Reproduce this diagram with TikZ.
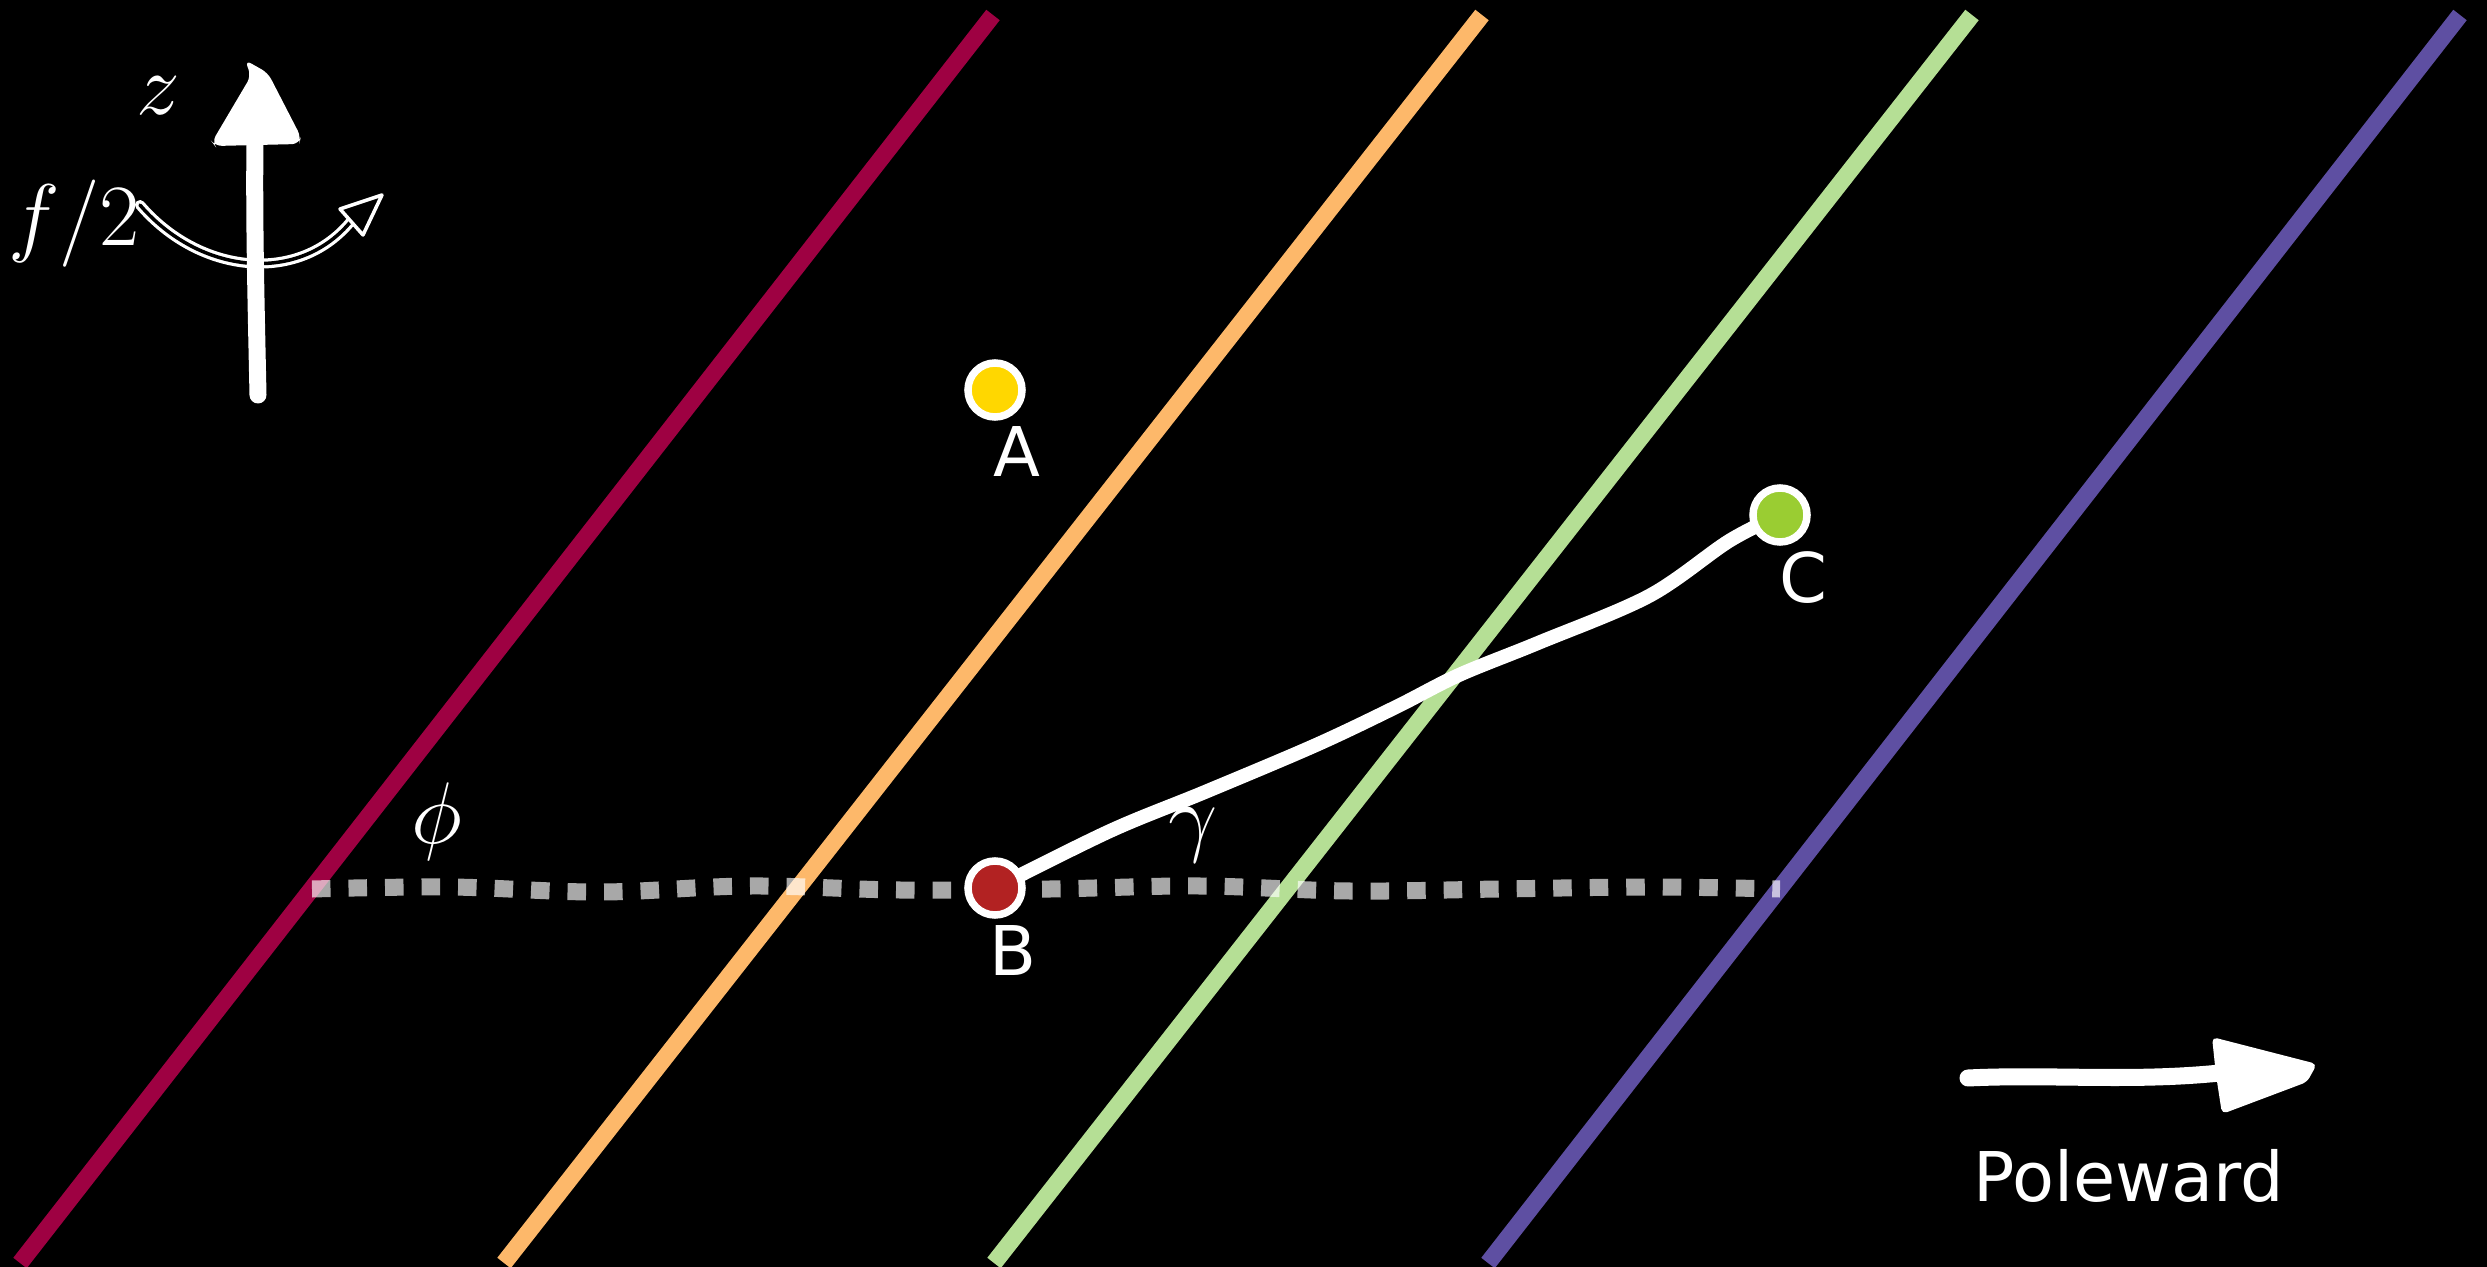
\documentclass[tikz,border=0pt]{standalone}
\usepackage{fontspec}
\newfontfamily\labfont{DejaVu Sans}
\usetikzlibrary{backgrounds}
\definecolor{lmag}{HTML}{9E0142}
\definecolor{lorange}{HTML}{FDB86A}
\definecolor{lgreen}{HTML}{B5DF95}
\definecolor{lpurple}{HTML}{5E4FA2}
\definecolor{ptA}{HTML}{FFD700}
\definecolor{ptB}{HTML}{B22222}
\definecolor{ptC}{HTML}{9ACD32}
\begin{document}
\begin{tikzpicture}[x=0.01cm,y=-0.01cm,
  band/.style={line width=0.17cm, line cap=butt},
  pt/.style={circle, draw=white, line width=0.075cm, minimum size=0.54cm, inner sep=0pt},
  lab/.style={text=white, inner sep=0pt, font=\labfont\fontsize{19.5}{23}\selectfont},
  mlab/.style={text=white, inner sep=0pt, font=\fontsize{23}{27}\selectfont},
  track/.style={white, line width=0.14cm, line cap=round, line join=round},
  dots/.style={white, opacity=0.66, line width=0.17cm, dash pattern=on 0.185cm off 0.18cm},
  bigarrow/.style={white, line width=0.17cm, line cap=round},
]
\useasboundingbox (0,0) rectangle (2487,1267);

% points
\node[pt, fill=ptA] (A) at (995,390) {};
\node[pt, fill=ptB] (B) at (995,888) {};
\node[pt, fill=ptC] (C) at (1780,515) {};
\node[lab] (Alab) at (1017,452) {A};
\node[lab] (Blab) at (1013,951) {B};
\node[lab] (Clab) at (1803,578) {C};

% labels
\node[mlab] (phi) at (437,822) {$\phi$};
\node[mlab] (gam) at (1193,835) {$\gamma$};
\node[mlab, font=\fontsize{27}{31}\selectfont] (zlab) at (158,96) {$z$};
\node[mlab] (flab) at (74,224) {$f/2$};
\node[lab] (pole) at (2129,1176) {Poleward};

\coordinate (dL) at (312,889);
\coordinate (dR) at (1780,889);

\begin{pgfonlayer}{background}
\fill[black] (0,0) rectangle (2487,1267);
% contour bands
\draw[band, lmag] (20,1263) -- (993,15);
\draw[band, lorange] (504,1263) -- (1482,15);
\draw[band, lgreen] (994,1263) -- (1972,15);
\draw[band, lpurple] (1488,1263) -- (2460,15);
% dotted line
\draw[dots] plot[smooth, tension=0.6] coordinates {(dL) (450,887) (600,892) (750,886) (900,890) (1050,889) (1200,886) (1350,891) (1500,889) (1650,887) (dR)};
% track B -> C
\draw[track] plot[smooth, tension=0.55] coordinates {(B.center) (1110,831) (1205,792) (1316,745) (1396,707) (1459,675) (1538,643) (1649,596) (1729,541) (C.center)};
\end{pgfonlayer}

% rotation arrow f/2
\draw[white, line width=0.1cm, line cap=round] (140,205) .. controls (200,275) and (300,285) .. (352,220);
\draw[black, line width=0.035cm, line cap=round] (140,205) .. controls (200,275) and (300,285) .. (352,220);
\filldraw[fill=black, draw=white, line width=0.035cm, line join=round] (382,195) -- (340,209) -- (363,235) -- cycle;

% z axis
\draw[bigarrow] (258,395) .. controls (256,300) and (254,220) .. (255,138);
\fill[white, rounded corners=2pt] (212,142) -- (251,76) -- (245,60) -- (268,73) -- (301,137) -- (299,144) -- (215,146) -- cycle;

% poleward arrow
\draw[bigarrow] (1968,1078) .. controls (2050,1074) and (2130,1082) .. (2220,1073);
\fill[white, rounded corners=1.5pt] (2212,1037) -- (2317,1064) -- (2307,1082) -- (2222,1114) -- (2216,1075) -- cycle;
\end{tikzpicture}
\end{document}
